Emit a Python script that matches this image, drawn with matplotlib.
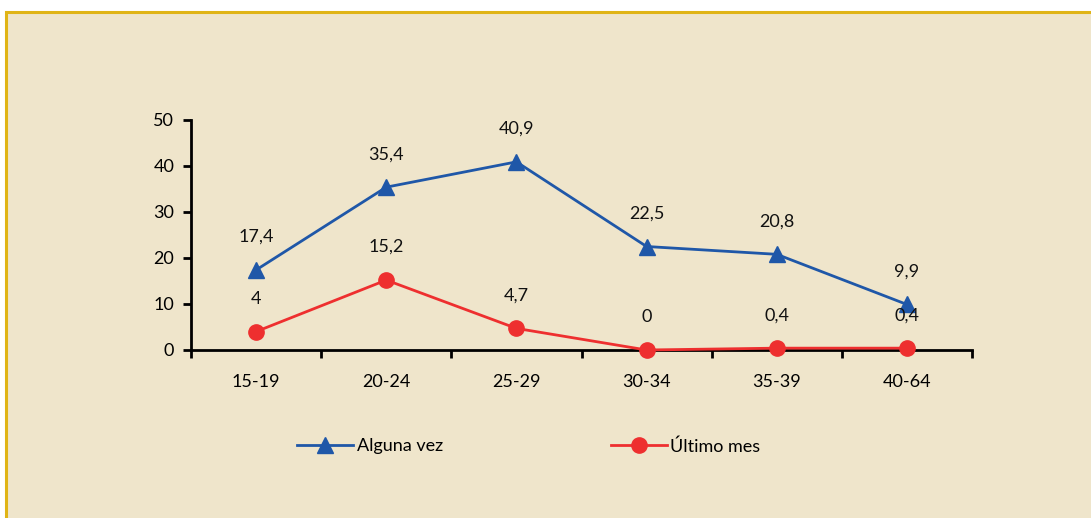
import matplotlib
matplotlib.use("Agg")
import matplotlib.pyplot as plt
from matplotlib.patches import Rectangle

categories = ["15-19", "20-24", "25-29", "30-34", "35-39", "40-64"]
alguna_vez = [17.4, 35.4, 40.9, 22.5, 20.8, 9.9]
ultimo_mes = [4, 15.2, 4.7, 0, 0.4, 0.4]
labels_alguna = ["17,4", "35,4", "40,9", "22,5", "20,8", "9,9"]
labels_ultimo = ["4", "15,2", "4,7", "0", "0,4", "0,4"]

plt.rcParams['font.family'] = ['Lato', 'DejaVu Sans']

W, H = 1091, 518
fig = plt.figure(figsize=(W / 100, H / 100), dpi=100)
fig.patch.set_facecolor("white")
bg = "#efe5cb"
# framed background
fig.patches.append(Rectangle((6 / W, -0.1), 1.2, (H - 12) / H + 0.1, transform=fig.transFigure,
                             facecolor=bg, edgecolor="#e0b416", linewidth=2.2, zorder=-10))

ax = fig.add_axes([191 / W, 1 - 350 / H, (972 - 191) / W, (350 - 120) / H])
ax.set_zorder(5)
ax.set_facecolor("none")
x = list(range(len(categories)))
blue = "#1f57a8"
red = "#ee2f2f"
fs = 13
ax.plot(x, alguna_vez, color=blue, lw=2, marker="^", ms=12, label="Alguna vez", clip_on=False, zorder=3)
ax.plot(x, ultimo_mes, color=red, lw=2, marker="o", ms=11, label="Último mes", clip_on=False, zorder=3)

for xi, v, t in zip(x, alguna_vez, labels_alguna):
    ax.annotate(t, (xi, v), xytext=(0, 18), textcoords="offset points", ha="center", va="bottom",
                fontsize=fs, color="#111111")
for xi, v, t in zip(x, ultimo_mes, labels_ultimo):
    ax.annotate(t, (xi, v), xytext=(0, 18), textcoords="offset points", ha="center", va="bottom",
                fontsize=fs, color="#111111")

ax.set_xlim(-0.5, 5.5)
ax.set_ylim(0, 50)
ax.set_yticks([0, 10, 20, 30, 40, 50])
ax.set_xticks([i - 0.5 for i in range(7)])
ax.set_xticklabels([])
ax.set_xticks(x, minor=True)
ax.set_xticklabels(categories, minor=True)
ax.tick_params(axis="x", which="minor", length=0, pad=17, labelsize=fs)
ax.tick_params(axis="x", which="major", length=6, width=2, direction="out")
ax.tick_params(axis="y", length=6, width=2, direction="out", labelsize=fs, pad=6)
for s in ["top", "right"]:
    ax.spines[s].set_visible(False)
for s in ["left", "bottom"]:
    ax.spines[s].set_linewidth(2)

leg = ax.legend(loc="upper left", bbox_to_anchor=(297 / W, 1 - 438 / H), bbox_transform=fig.transFigure,
                ncol=2, frameon=False, fontsize=fs, handlelength=3.1, handletextpad=0.2,
                columnspacing=9.3, borderpad=0, borderaxespad=0)

fig.savefig("out.png", dpi=100, facecolor=fig.get_facecolor())
